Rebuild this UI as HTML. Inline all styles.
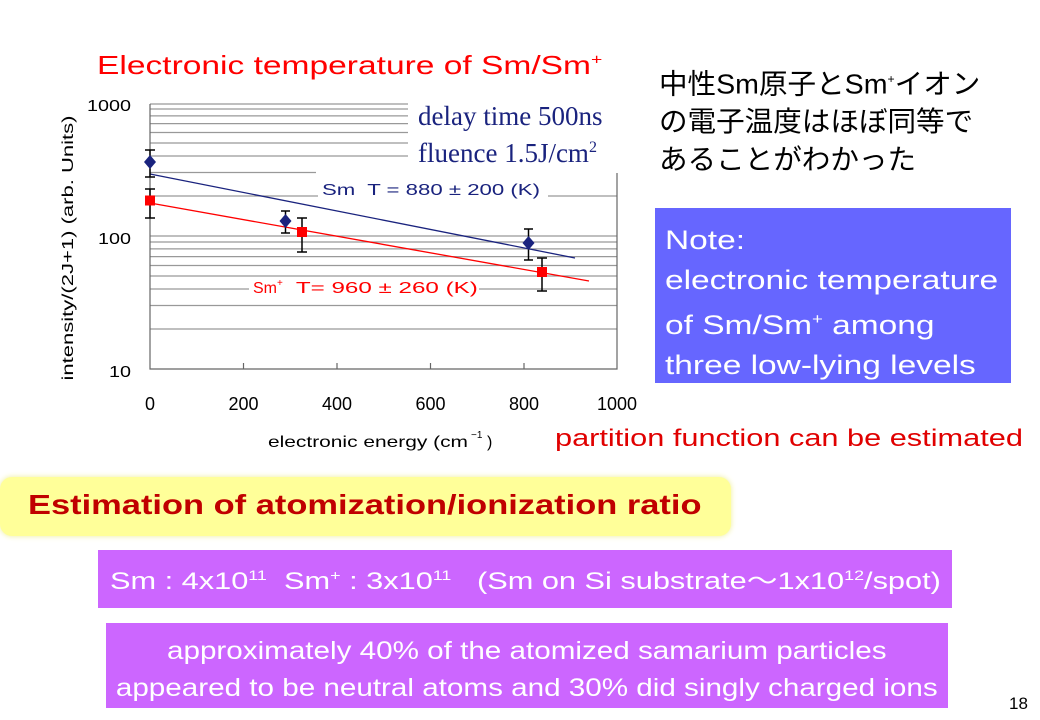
<!DOCTYPE html>
<html><head><meta charset="utf-8"><style>
body{margin:0;width:1040px;height:720px;background:#fff;position:relative;overflow:hidden;font-family:"Liberation Sans","Noto Sans CJK JP",sans-serif}
.a{position:absolute;white-space:nowrap}
.s{display:inline-block;transform-origin:0 0}
</style></head><body>
<div class="a" style="left:97px;top:50px;font-size:26px;color:#f00"><span class="s" style="transform:scaleX(1.29)">Electronic temperature of Sm/Sm<sup style="font-size:15px">+</sup></span></div>
<div class="a" style="left:659px;top:60px;font-size:28px;line-height:38px;color:#000"><span class="s" style="transform:scaleX(1.02)">中性Sm原子とSm<sup style="font-size:12px">+</sup>イオン<br>の電子温度はほぼ同等で<br>あることがわかった</span></div>
<svg class="a" style="left:0;top:0" width="1040" height="470" font-family="Liberation Sans, sans-serif">
<g stroke="#999" stroke-width="1.2">
<line x1="150" x2="617" y1="329" y2="329"/><line x1="150" x2="617" y1="305.5" y2="305.5"/>
<line x1="150" x2="249" y1="289" y2="289"/><line x1="479" x2="617" y1="289" y2="289"/>
<line x1="150" x2="617" y1="276" y2="276"/><line x1="150" x2="617" y1="265.5" y2="265.5"/>
<line x1="150" x2="617" y1="256.6" y2="256.6"/><line x1="150" x2="617" y1="248.9" y2="248.9"/>
<line x1="150" x2="617" y1="242" y2="242"/><line x1="150" x2="617" y1="236" y2="236"/>
<line x1="150" x2="318" y1="196" y2="196"/><line x1="548" x2="617" y1="196" y2="196"/>
<line x1="150" x2="316" y1="172.5" y2="172.5"/>
<line x1="150" x2="408" y1="156" y2="156"/><line x1="150" x2="408" y1="143" y2="143"/>
<line x1="150" x2="408" y1="132.5" y2="132.5"/><line x1="150" x2="408" y1="123.6" y2="123.6"/>
<line x1="150" x2="408" y1="115.9" y2="115.9"/><line x1="150" x2="408" y1="109" y2="109"/>
<line x1="150" x2="408" y1="104" y2="104"/>
</g>
<g stroke="#666" stroke-width="1.2" fill="none">
<polyline points="150,104 150,369 617,369 617,173"/>
<line x1="243.5" x2="243.5" y1="363" y2="369"/><line x1="337" x2="337" y1="363" y2="369"/>
<line x1="430.5" x2="430.5" y1="363" y2="369"/><line x1="524" x2="524" y1="363" y2="369"/>
</g>
<line x1="150" y1="174" x2="575" y2="258" stroke="#1a237e" stroke-width="1.3"/>
<line x1="150" y1="203" x2="589" y2="281" stroke="#f00" stroke-width="1.3"/>
<g stroke="#000" stroke-width="1.5">
<line x1="150" x2="150" y1="150" y2="177"/><line x1="145" x2="155" y1="150" y2="150"/><line x1="145" x2="155" y1="177" y2="177"/>
<line x1="285.5" x2="285.5" y1="211" y2="233"/><line x1="281" x2="290" y1="211" y2="211"/><line x1="281" x2="290" y1="233" y2="233"/>
<line x1="528.5" x2="528.5" y1="229" y2="260"/><line x1="524" x2="533" y1="229" y2="229"/><line x1="524" x2="533" y1="260" y2="260"/>
<line x1="150" x2="150" y1="189" y2="218"/><line x1="145" x2="155" y1="189" y2="189"/><line x1="145" x2="155" y1="218" y2="218"/>
<line x1="302" x2="302" y1="218" y2="252"/><line x1="297" x2="307" y1="218" y2="218"/><line x1="297" x2="307" y1="252" y2="252"/>
<line x1="542" x2="542" y1="258" y2="291"/><line x1="537" x2="547" y1="258" y2="258"/><line x1="537" x2="547" y1="291" y2="291"/>
</g>
<g fill="#1a237e">
<polygon points="150,155 156,162 150,169 144,162"/>
<polygon points="285.5,214 291.5,221 285.5,228 279.5,221"/>
<polygon points="528.5,236 534.5,243 528.5,250 522.5,243"/>
</g>
<g fill="#f00">
<rect x="145" y="195.5" width="10" height="10"/><rect x="297" y="227" width="10" height="10"/><rect x="537" y="267" width="10" height="10"/>
</g>
<text x="322" y="195" font-size="16" fill="#1a237e" textLength="218" lengthAdjust="spacingAndGlyphs">Sm&#160; T = 880 ± 200 (K)</text>
<text x="253" y="293" font-size="16" fill="#f00">Sm<tspan font-size="10" dy="-7">+</tspan><tspan dy="7" textLength="195" lengthAdjust="spacingAndGlyphs">&#160; T= 960 ± 260 (K)</tspan></text>
<text font-family="Liberation Serif, serif" font-size="27" fill="#1a237e"><tspan x="418" y="125">delay time 500ns</tspan><tspan x="418" y="162">fluence 1.5J/cm<tspan font-size="16" dy="-10">2</tspan></tspan></text>
<g font-size="16" fill="#000" text-anchor="end"><text x="131" y="111" textLength="44" lengthAdjust="spacingAndGlyphs">1000</text><text x="131" y="244" textLength="33" lengthAdjust="spacingAndGlyphs">100</text><text x="131" y="377" textLength="22" lengthAdjust="spacingAndGlyphs">10</text></g>
<g font-size="18" fill="#000" text-anchor="middle"><text x="150" y="410">0</text><text x="243.5" y="410">200</text><text x="337" y="410">400</text><text x="430.5" y="410">600</text><text x="524" y="410">800</text><text x="617" y="410">1000</text></g>
<text x="268" y="447" font-size="16" textLength="200" lengthAdjust="spacingAndGlyphs">electronic energy (cm</text>
<text x="471" y="438" font-size="10">−1</text><text x="487" y="447" font-size="16">)</text>
<text transform="translate(73,248) rotate(-90)" font-size="16" text-anchor="middle" textLength="265" lengthAdjust="spacingAndGlyphs">intensity/(2J+1) (arb. Units)</text>
</svg>
<div class="a" style="left:655px;top:208px;width:356px;height:175px;background:#6666ff;color:#fff;font-size:27px;line-height:40px;padding:12px 0 0 10px;box-sizing:border-box;overflow:hidden"><span class="s" style="transform:scaleX(1.24)">Note:<br>electronic temperature<br>of Sm/Sm<sup style="font-size:15px">+</sup> among<br>three low-lying levels</span></div>
<div class="a" style="left:555px;top:425px;font-size:24px;color:#e00000"><span class="s" style="transform:scaleX(1.28)">partition function can be estimated</span></div>
<div class="a" style="left:0;top:477px;width:731px;height:59px;background:#ffff99;border-radius:12px;box-shadow:0 0 6px #ee9"></div>
<div class="a" style="left:28px;top:489px;font-size:28px;font-weight:bold;color:#c00000"><span class="s" style="transform:scaleX(1.23)">Estimation of atomization/ionization ratio</span></div>
<div class="a" style="left:98px;top:550px;width:854px;height:58px;background:#cc66ff;color:#fff;font-size:24px;line-height:50px;padding-left:12px;box-sizing:border-box"><span class="s" style="transform:scaleX(1.28)">Sm : 4x10<sup style="font-size:14px">11</sup>&#160; Sm<sup style="font-size:14px">+</sup> : 3x10<sup style="font-size:14px">11</sup>&#160;&#160; (Sm on Si substrate～1x10<sup style="font-size:14px">12</sup>/spot)</span></div>
<div class="a" style="left:106px;top:623px;width:842px;height:85px;background:#cc66ff;color:#fff;font-size:25px;line-height:37px;text-align:center;padding-top:10px;box-sizing:border-box"><span style="display:inline-block;transform:scaleX(1.185)">approximately 40% of the atomized samarium particles<br>appeared to be neutral atoms and 30% did singly charged ions</span></div>
<div class="a" style="left:1009px;top:694px;font-size:17px;color:#000">18</div>
</body></html>
